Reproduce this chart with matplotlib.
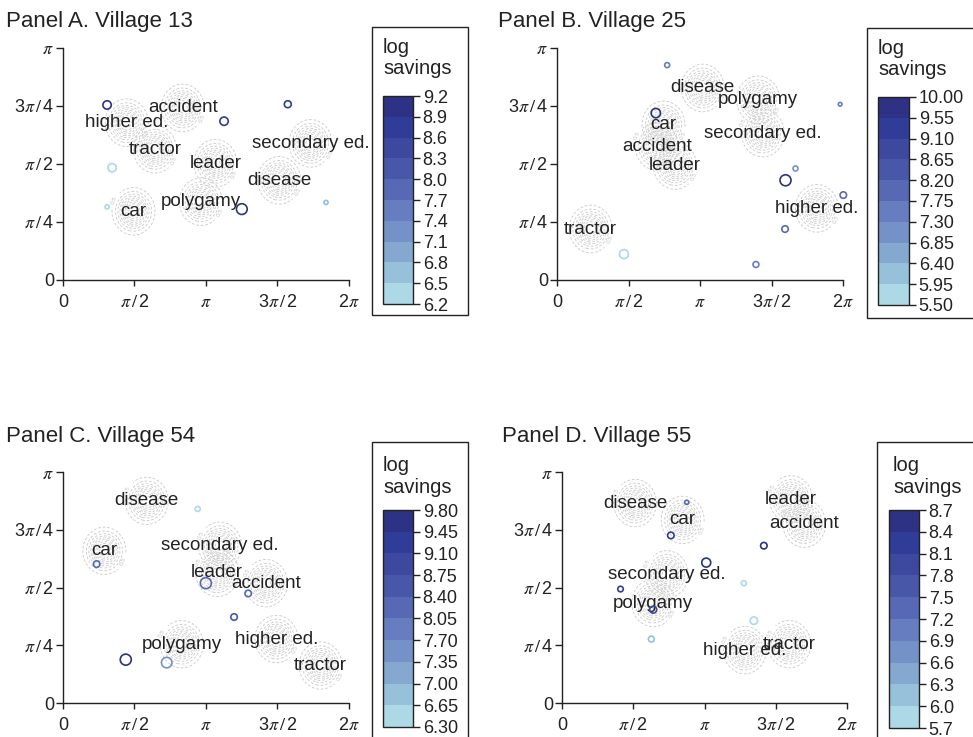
import numpy as np
import matplotlib
matplotlib.use('Agg')
import matplotlib.pyplot as plt
from matplotlib.colors import ListedColormap, BoundaryNorm
from matplotlib.cm import ScalarMappable
from matplotlib.patches import Rectangle

plt.rcParams['font.family'] = ['Liberation Sans', 'DejaVu Sans']
plt.rcParams['mathtext.fontset'] = 'stix'

# category labels (same order in every panel)
names = ['accident', 'higher ed.', 'tractor', 'leader',
         'secondary ed.', 'disease', 'polygamy', 'car']

titles = ['Panel A. Village 13', 'Panel B. Village 25',
          'Panel C. Village 54', 'Panel D. Village 55']

# label positions (x, y in radians)
a_lab_x = [2.63, 1.40, 2.02, 3.35, 5.44, 4.75, 3.03, 1.55]
a_lab_y = [2.33, 2.13, 1.77, 1.58, 1.85, 1.35, 1.06, 0.93]
b_lab_x = [2.19, 5.71, 0.74, 2.59, 4.52, 3.20, 4.42, 2.34]
b_lab_y = [1.81, 0.97, 0.69, 1.55, 1.99, 2.60, 2.44, 2.10]
c_lab_x = [4.46, 4.69, 5.66, 3.39, 3.45, 1.84, 2.61, 0.91]
c_lab_y = [1.63, 0.87, 0.51, 1.77, 2.14, 2.75, 0.80, 2.07]
d_lab_x = [5.34, 4.03, 5.01, 5.05, 2.31, 1.61, 2.01, 2.66]
d_lab_y = [2.44, 0.72, 0.80, 2.77, 1.75, 2.72, 1.36, 2.49]

# households: position, log savings, circle size
a_pt_x = [0.97, 1.08, 0.97, 3.54, 3.93, 4.94, 5.78]
a_pt_y = [2.37, 1.52, 0.99, 2.15, 0.96, 2.38, 1.05]
a_pt_sav = [8.9, 6.3, 6.4, 8.7, 9.0, 8.8, 6.6]
a_pt_size = [36, 36, 9, 36, 60, 25, 9]

b_pt_x = [2.42, 2.17, 6.22, 5.24, 5.02, 6.29, 5.01, 1.47, 4.37]
b_pt_y = [2.91, 2.26, 2.38, 1.51, 1.35, 1.15, 0.69, 0.35, 0.21]
b_pt_sav = [7.4, 9.8, 7.6, 7.0, 9.6, 7.9, 7.8, 5.7, 7.6]
b_pt_size = [13, 45, 7, 13, 63, 22, 22, 42, 18]

c_pt_x = [2.96, 0.74, 3.14, 4.07, 3.76, 1.38, 2.28]
c_pt_y = [2.64, 1.89, 1.63, 1.49, 1.17, 0.59, 0.55]
c_pt_sav = [6.5, 8.3, 8.1, 8.2, 8.5, 9.6, 7.6]
c_pt_size = [13, 22, 63, 22, 22, 63, 57]

d_pt_x = [2.75, 2.40, 4.45, 3.18, 4.01, 1.29, 2.01, 4.23, 1.97]
d_pt_y = [2.73, 2.28, 2.14, 1.91, 1.63, 1.55, 1.27, 1.12, 0.87]
d_pt_sav = [7.3, 8.3, 8.4, 8.5, 5.9, 8.2, 8.0, 5.9, 6.0]
d_pt_size = [9, 22, 22, 42, 13, 16, 25, 29, 18]

# colour scale ranges (10 bins each)
cbar_min = [6.2, 5.5, 6.3, 5.7]
cbar_max = [9.2, 10.0, 9.8, 8.7]
cbar_fmt = ['%.1f', '%.2f', '%.2f', '%.1f']

x_ticklabels = ['0', r'$\pi\,/\,$2', r'$\pi$', r'3$\pi\,/\,$2', r'2$\pi$']
y_ticklabels = ['0', r'$\pi\,/\,$4', r'$\pi\,/\,$2', r'3$\pi\,/\,$4', r'$\pi$']

band_colors = ['#ADD8E6', '#97C1DA', '#84A8D0', '#7592C8', '#667DC0',
               '#5769B5', '#4957A9', '#3D489F', '#2F3C98', '#2D3284']
cmap = ListedColormap(band_colors)
ink = '#222222'

panels = [
    dict(lx=a_lab_x, ly=a_lab_y, px=a_pt_x, py=a_pt_y, sav=a_pt_sav, size=a_pt_size),
    dict(lx=b_lab_x, ly=b_lab_y, px=b_pt_x, py=b_pt_y, sav=b_pt_sav, size=b_pt_size),
    dict(lx=c_lab_x, ly=c_lab_y, px=c_pt_x, py=c_pt_y, sav=c_pt_sav, size=c_pt_size),
    dict(lx=d_lab_x, ly=d_lab_y, px=d_pt_x, py=d_pt_y, sav=d_pt_sav, size=d_pt_size),
]

# layout in figure fractions
ax_rects = [[0.0647, 0.6201, 0.2939, 0.3148],
            [0.5725, 0.6201, 0.2939, 0.3148],
            [0.0647, 0.0461, 0.2939, 0.3134],
            [0.5776, 0.0461, 0.2929, 0.3134]]
cax_rects = [[0.3936, 0.5875, 0.0308, 0.2822],
             [0.9024, 0.5862, 0.0319, 0.2822],
             [0.3936, 0.0136, 0.0308, 0.2944],
             [0.9137, 0.0122, 0.0308, 0.2958]]
box_rects = [[0.3823, 0.5726, 0.0987, 0.3908],
             [0.8911, 0.5685, 0.1500, 0.3935],
             [0.3823, -0.0500, 0.0987, 0.4503],
             [0.9013, -0.0500, 0.1500, 0.4503]]
title_pos = [(0.0062, 0.9715), (0.5118, 0.9715), (0.0062, 0.4071), (0.5159, 0.4071)]
legend_title_pos = [(0.3936, 0.9213), (0.9024, 0.9200), (0.3936, 0.3535), (0.9178, 0.3535)]

fig = plt.figure(figsize=(9.73, 7.37), dpi=100)

for i, p in enumerate(panels):
    ax = fig.add_axes(ax_rects[i])
    ax.set_xlim(0, 2 * np.pi)
    ax.set_ylim(0, np.pi)
    for side in ['top', 'right']:
        ax.spines[side].set_visible(False)
    for side in ['left', 'bottom']:
        ax.spines[side].set_color(ink)
        ax.spines[side].set_linewidth(1.0)
    ax.set_xticks(np.arange(5) * np.pi / 2)
    ax.set_xticklabels(x_ticklabels)
    ax.set_yticks(np.arange(5) * np.pi / 4)
    ax.set_yticklabels(y_ticklabels)
    ax.tick_params(axis='x', length=4, width=1, color=ink, pad=6,
                   labelsize=13, labelcolor=ink)
    ax.tick_params(axis='y', length=5, width=1, color=ink, pad=1.5,
                   labelsize=13, labelcolor=ink)
    ax.patch.set_alpha(0)

    # grey dashed density blobs around each label
    sx, sy = 0.22, 0.15
    for cx, cy in zip(p['lx'], p['ly']):
        gx = np.linspace(cx - 0.7, cx + 0.7, 80)
        gy = np.linspace(cy - 0.5, cy + 0.5, 80)
        X, Y = np.meshgrid(gx, gy)
        Z = 5 * np.exp(-((X - cx) ** 2 / (2 * sx ** 2) + (Y - cy) ** 2 / (2 * sy ** 2)))
        cs = ax.contour(X, Y, Z, levels=np.arange(0.5, 5.0, 0.5), colors='#cccccc',
                        linestyles=[(0, (3, 2))], linewidths=0.65, zorder=1)
        ax.clabel(cs, levels=[0.5], fmt='%.1f', fontsize=4.5, colors='#c4c4c4', inline=True)

    for name, x, y in zip(names, p['lx'], p['ly']):
        ax.text(x, y, name, fontsize=13.5, color=ink, ha='center', va='center',
                zorder=3, clip_on=False)

    bounds = np.linspace(cbar_min[i], cbar_max[i], 11)
    norm = BoundaryNorm(bounds, cmap.N)
    ax.scatter(p['px'], p['py'], s=p['size'], facecolors='none',
               edgecolors=cmap(norm(p['sav'])), linewidths=1.2, zorder=4, clip_on=False)

    fig.text(title_pos[i][0], title_pos[i][1], titles[i], fontsize=16, color=ink,
             ha='left', va='center')

    # legend box with colour bar
    fig.patches.append(Rectangle(box_rects[i][:2], box_rects[i][2], box_rects[i][3],
                                 transform=fig.transFigure, facecolor='white',
                                 edgecolor=ink, linewidth=1.0, zorder=-1))
    cax = fig.add_axes(cax_rects[i])
    cax.set_zorder(2)
    cb = fig.colorbar(ScalarMappable(norm=norm, cmap=cmap), cax=cax, ticks=bounds,
                      format=cbar_fmt[i])
    cb.outline.set_edgecolor(ink)
    cb.outline.set_linewidth(1.0)
    cax.tick_params(length=5, width=1, color=ink, pad=2, labelsize=13, labelcolor=ink)
    fig.text(legend_title_pos[i][0], legend_title_pos[i][1], 'log\nsavings',
             fontsize=14.5, color=ink, ha='left', va='center', linespacing=1.15)

fig.savefig('out.png', dpi=100)
